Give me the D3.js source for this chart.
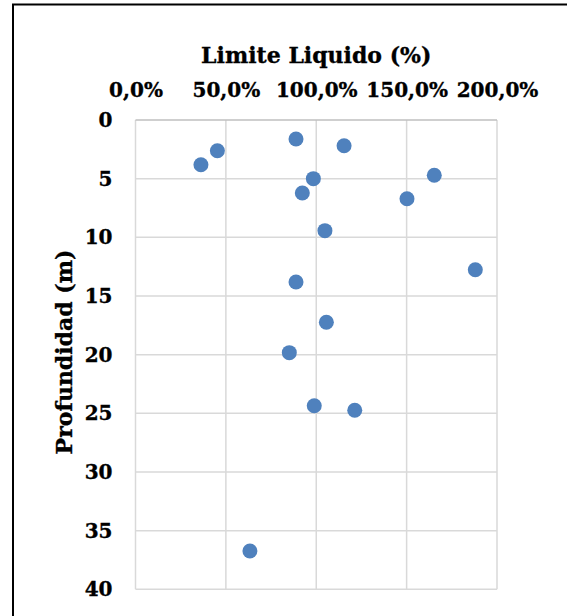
<!DOCTYPE html>
<html>
<head>
<meta charset="utf-8">
<script src="https://cdn.jsdelivr.net/npm/d3@7"></script>
<style>
  body { margin: 0; background: #fff; }
  svg { display: block; }
  text { font-family: "DejaVu Serif", serif; font-weight: bold; fill: #000; stroke: #000; stroke-width: 0.35px; }
</style>
</head>
<body>
<svg id="chart" width="567" height="616"></svg>
<script>
'use strict'

// limite liquido (fraction) vs profundidad (m)
const limiteLiquido = [0.888, 0.453, 0.362, 0.984, 0.923, 1.048, 0.888, 1.154, 1.653, 1.502, 1.880, 1.056, 0.851, 0.989, 1.213, 0.633]
const profundidad = [1.62, 2.62, 3.81, 5.00, 6.22, 9.43, 13.81, 2.19, 4.71, 6.71, 12.76, 17.24, 19.83, 24.35, 24.74, 36.73]
const xTicks = [0, 0.5, 1, 1.5, 2]
const yTicks = [0, 5, 10, 15, 20, 25, 30, 35, 40]

const points = limiteLiquido.map((v, i) => ({x: v, y: profundidad[i]}))

const svg = d3.select('#chart')
const plot = {left: 135.5, right: 497, top: 120, bottom: 589.3}

// outer chart border (only left and top are visible in the crop)
svg.append('path')
  .attr('d', 'M13,616 V4.5 H567')
  .attr('fill', 'none')
  .attr('stroke', '#000')
  .attr('stroke-width', 2)

const x = d3.scaleLinear().domain([0, 2]).range([plot.left, plot.right])
const y = d3.scaleLinear().domain([0, 40]).range([plot.top, plot.bottom])

const fmt = d => d3.format('.1f')(d * 100).replace('.', ',') + '%'

// gridlines
const grid = svg.append('g').attr('class', 'grid')
grid.selectAll('line.v')
  .data(xTicks)
  .enter().append('line')
  .attr('class', 'v')
  .attr('x1', d => x(d)).attr('x2', d => x(d))
  .attr('y1', plot.top).attr('y2', plot.bottom)
  .attr('stroke', '#d9d9d9').attr('stroke-width', 1.5)
grid.selectAll('line.h')
  .data(yTicks)
  .enter().append('line')
  .attr('class', 'h')
  .attr('x1', plot.left).attr('x2', plot.right)
  .attr('y1', d => y(d)).attr('y2', d => y(d))
  .attr('stroke', d => d === 0 ? '#bfbfbf' : '#d9d9d9').attr('stroke-width', 1.5)

// axes (top x axis, left y axis) without lines, labels only
const styleTicks = sel => sel.selectAll('text')
  .style('font-family', '"DejaVu Serif", serif')
  .style('font-weight', 'bold')
  .style('font-size', '20px')
  .attr('fill', '#000')

const xAxis = svg.append('g')
  .attr('transform', `translate(0,${plot.top - 23})`)
  .call(d3.axisTop(x).tickValues(xTicks).tickFormat(fmt).tickSize(0).tickPadding(0))
xAxis.select('.domain').remove()
styleTicks(xAxis)

const yAxis = svg.append('g')
  .attr('transform', `translate(${plot.left - 23},0)`)
  .call(d3.axisLeft(y).tickValues(yTicks).tickSize(0).tickPadding(0))
yAxis.select('.domain').remove()
styleTicks(yAxis)

// titles
svg.append('text')
  .attr('x', (plot.left + plot.right) / 2)
  .attr('y', 63)
  .attr('text-anchor', 'middle')
  .style('font-size', '22px')
  .text('Limite Liquido (%)')

svg.append('text')
  .attr('transform', 'translate(72,352) rotate(-90)')
  .attr('text-anchor', 'middle')
  .style('font-size', '22px')
  .text('Profundidad (m)')

// markers
svg.append('g').attr('class', 'points')
  .selectAll('circle')
  .data(points)
  .enter().append('circle')
  .attr('cx', d => x(d.x))
  .attr('cy', d => y(d.y))
  .attr('r', 7.5)
  .attr('fill', '#4f81bd')
</script>
</body>
</html>
